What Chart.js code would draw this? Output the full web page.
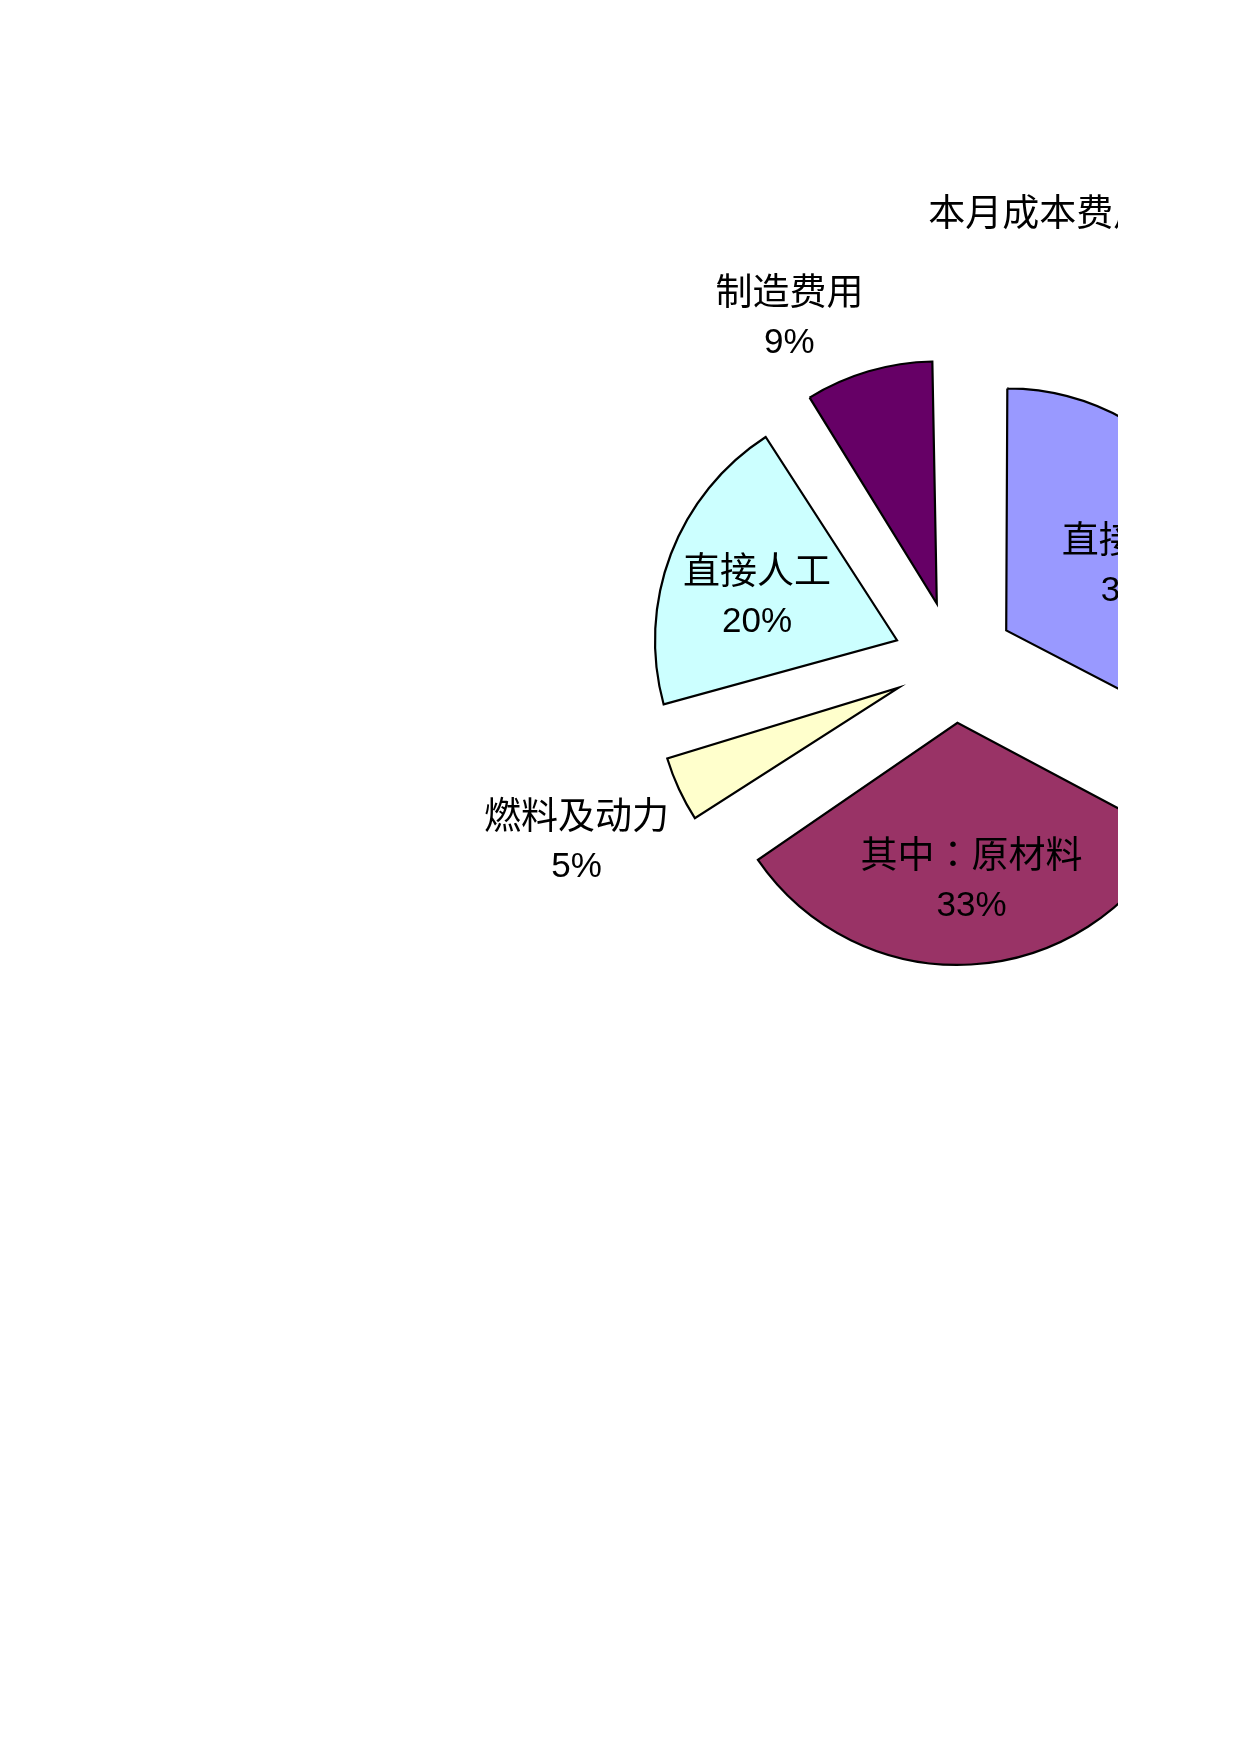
<!DOCTYPE html>
<html>
<head>
<meta charset="utf-8">
<script src="https://cdn.jsdelivr.net/npm/chart.js@4/dist/chart.umd.min.js"></script>
<style>
  html, body { margin: 0; padding: 0; background: #ffffff; }
  #clip { position: absolute; left: 0; top: 0; width: 1118px; height: 1754px; overflow: hidden; }
  #wrap { position: absolute; left: 453.8px; top: 162.1px; width: 1000px; height: 1000px; }
</style>
</head>
<body>
<div id="clip"><div id="wrap"><canvas id="c" width="1000" height="1000"></canvas></div></div>
<script>
// ---- data ----
const chartTitle = '本月成本费用构成';
const categories = ['直接材料', '其中：原材料', '燃料及动力', '直接人工', '制造费用'];
const values = [32.7, 32.8, 5.2, 20.2, 9.1];
const sliceColors = ['#9999FF', '#993366', '#FFFFCC', '#CCFFFF', '#660066'];

// ---- label layout (style) ----
const labelDist = [0.853, 0.903, 1.725, 0.859, 1.581];   // in units of radius, from pie centre
const labelAngleShift = [2.9, -1.35, -0.45, -2.2, -9.1]; // degrees relative to slice mid-angle

const RADIUS = 242;
const EXPLODE = 61;
const CJK_FONT = '37px "Noto Sans CJK SC", sans-serif';
const LATIN_FONT = '35px "Liberation Sans", Arial, sans-serif';
const PUNCT_FONT = '37px "Noto Sans CJK TC", sans-serif';
const total = values.reduce((a, b) => a + b, 0);

function fontFor(ch) {
  if (ch === '：') return PUNCT_FONT;
  return ch.charCodeAt(0) < 0x2000 ? LATIN_FONT : CJK_FONT;
}

function drawText(ctx, text, x0, y, align) {
  const runs = [];
  for (const ch of text) {
    const f = fontFor(ch);
    if (runs.length && runs[runs.length - 1][1] === f) runs[runs.length - 1][0] += ch;
    else runs.push([ch, f]);
  }
  let w = 0;
  runs.forEach(r => { ctx.font = r[1]; w += ctx.measureText(r[0]).width; });
  let x = align === 'center' ? x0 - w / 2 : x0;
  ctx.textAlign = 'left';
  runs.forEach(r => { ctx.font = r[1]; ctx.fillText(r[0], x, y); x += ctx.measureText(r[0]).width; });
}

// Chart.js grows the radius of narrow exploded slices; keep all slices at the same radius
const equalRadiusPlugin = {
  id: 'equalRadius',
  afterDatasetUpdate(chart, args) {
    const meta = chart.getDatasetMeta(args.index);
    const R = meta.controller.outerRadius;
    meta.data.forEach(arc => {
      const fix = 1 - Math.sin(Math.min(Math.PI, arc.circumference || 0));
      arc.outerRadius = R - EXPLODE * fix;
    });
  }
};

const labelPlugin = {
  id: 'sliceLabels',
  afterDatasetsDraw(chart) {
    const ctx = chart.ctx;
    const meta = chart.getDatasetMeta(0);
    const R = meta.controller.outerRadius;
    const arcs = meta.data;
    ctx.save();
    ctx.fillStyle = '#000';
    ctx.textBaseline = 'alphabetic';
    arcs.forEach((arc, i) => {
      const p = arc.getProps(['x', 'y', 'startAngle', 'endAngle'], true);
      const mid = (p.startAngle + p.endAngle) / 2 + labelAngleShift[i] * Math.PI / 180;
      const d = labelDist[i] * R;
      const lx = p.x + Math.cos(mid) * d;
      const ly = p.y + Math.sin(mid) * d;
      const pct = Math.round(values[i] / total * 100) + '%';
      drawText(ctx, categories[i], lx, ly - 11.5, 'center');
      drawText(ctx, pct, lx, ly + 36.5, 'center');
    });
    const p0 = arcs[0].getProps(['x', 'y'], true);
    drawText(ctx, chartTitle, p0.x - 25.8, p0.y - 436, 'left');
    ctx.restore();
  }
};

new Chart(document.getElementById('c'), {
  type: 'pie',
  data: {
    labels: categories,
    datasets: [{
      data: values,
      backgroundColor: sliceColors,
      borderColor: '#000000',
      borderWidth: 2.2,
      borderJoinStyle: 'miter',
      offset: 4 * EXPLODE
    }]
  },
  options: {
    responsive: false,
    animation: false,
    radius: RADIUS,
    layout: { padding: 0 },
    plugins: {
      legend: { display: false },
      title: { display: false },
      tooltip: { enabled: false }
    },
    events: []
  },
  plugins: [equalRadiusPlugin, labelPlugin]
});
</script>
</body>
</html>
